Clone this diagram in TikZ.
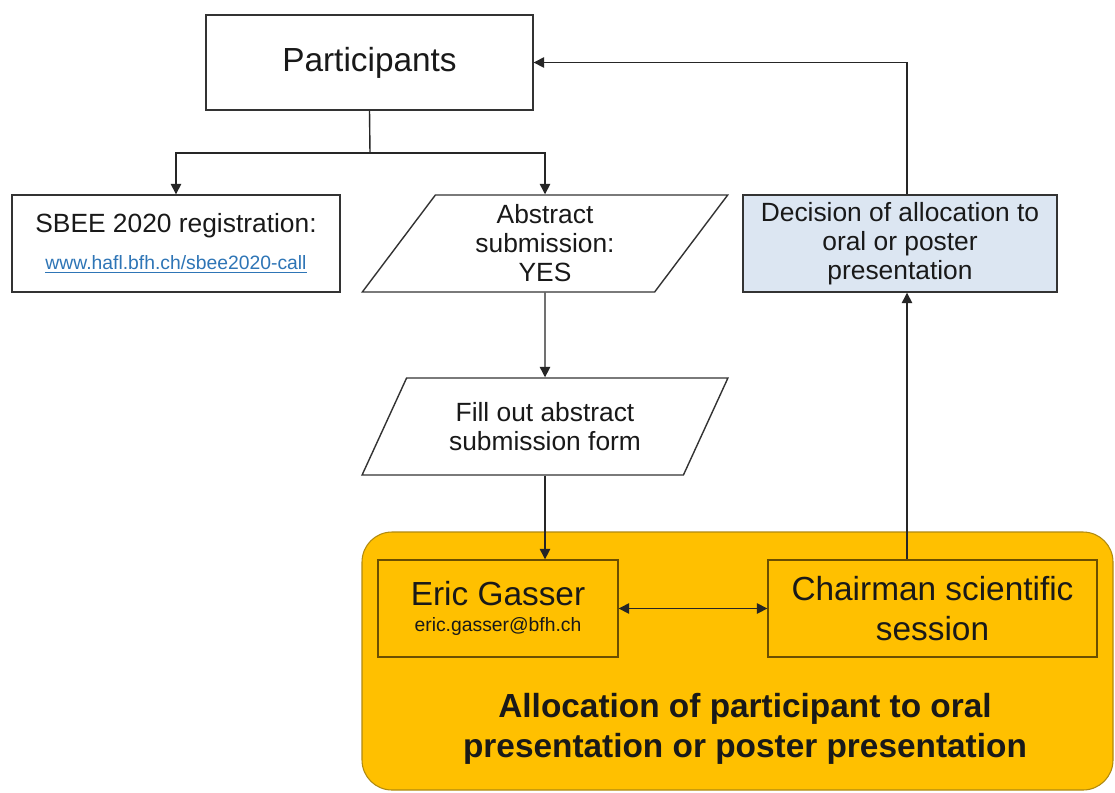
\documentclass[tikz,border=0pt]{standalone}
\usepackage{fontspec}
\setmainfont{Liberation Sans}
\usetikzlibrary{positioning, arrows.meta, calc, shapes.geometric}
\definecolor{gold}{HTML}{FFC000}
\definecolor{goldline}{HTML}{B08A10}
\definecolor{brownline}{HTML}{6B4E00}
\definecolor{paleblue}{HTML}{DCE6F2}
\definecolor{linkblue}{HTML}{2E75B6}
\begin{document}
\begin{tikzpicture}[x=0.02cm,y=-0.02cm]
		\tikzstyle{box} = [draw=black!80, line width=0.8pt, align=center, inner sep=2pt, text=black!90]
		\tikzstyle{para} = [box, trapezium, trapezium left angle=60, trapezium right angle=120, trapezium stretches=true, minimum width=7.32cm, minimum height=1.94cm]
		\tikzstyle{goldbox} = [box, draw=brownline, fill=gold, minimum height=1.94cm]
		\tikzstyle{arr} = [-{Triangle[width=6pt,length=6pt]}, line width=0.8pt, black!85]
		\tikzstyle{line} = [line width=0.8pt, black!85]
		\tikzstyle{big} = [font=\fontsize{19}{23}\selectfont]
		\tikzstyle{mid} = [font=\fontsize{15}{16.5}\selectfont]
		\useasboundingbox (0,0) rectangle (1115,792);
		\fill [white] (0,0) rectangle (1115,792);
		% allocation area
		\draw [fill=gold, draw=goldline, line width=0.6pt, rounded corners=0.6cm] (362,532) rectangle (1113,790);
		\node [big, font=\fontsize{19}{23}\selectfont\bfseries, align=center, text=black!90] (alloc) at (745,729) {Allocation of participant to oral\\presentation or poster presentation};
		% boxes
		\node [box, big, minimum width=6.54cm, minimum height=1.9cm] (part) at (369.5,62.5) {Participants};
		\node [box, minimum width=6.56cm, minimum height=1.94cm] (reg) at (176,243.5) {{\fontsize{15}{18}\selectfont SBEE 2020 registration:}\\[9pt]{\fontsize{11}{13}\selectfont\color{linkblue}\underline{www.hafl.bfh.ch/sbee2020-call}}};
		\node [para, mid] (abs) at (545,243.5) {Abstract\\submission:\\YES};
		\node [para, mid] (form) at (545,426.5) {Fill out abstract\\submission form};
		\node [box, mid, fill=paleblue, minimum width=6.28cm, minimum height=1.94cm] (dec) at (900,243.5) {Decision of allocation to\\oral or poster\\presentation};
		\node [goldbox, minimum width=4.8cm] (eric) at (498,608.5) {{\fontsize{19}{22}\selectfont Eric Gasser}\\[3pt]{\fontsize{11}{13}\selectfont eric.gasser@bfh.ch}};
		\node [goldbox, big, minimum width=6.58cm] (chair) at (932.5,608.5) {Chairman scientific\\session};
		% connectors
		\coordinate (split) at (370,153);
		\coordinate (fb) at (907,62.5);
		\draw [line] (part.south) -- (split);
		\draw [arr] (split) -| (reg.north);
		\draw [arr] (split) -| (abs.north);
		\draw [arr] (abs.south) -- (form.north);
		\draw [arr] (form.south) -- (form.south |- eric.north);
		\draw [arr, {Triangle[width=6pt,length=6pt]}-{Triangle[width=6pt,length=6pt]}] (eric.east) -- (chair.west);
		\draw [arr] (chair.north -| fb) -- (dec.south -| fb);
		\draw [arr] (dec.north -| fb) |- (part.east);
\end{tikzpicture}
\end{document}
